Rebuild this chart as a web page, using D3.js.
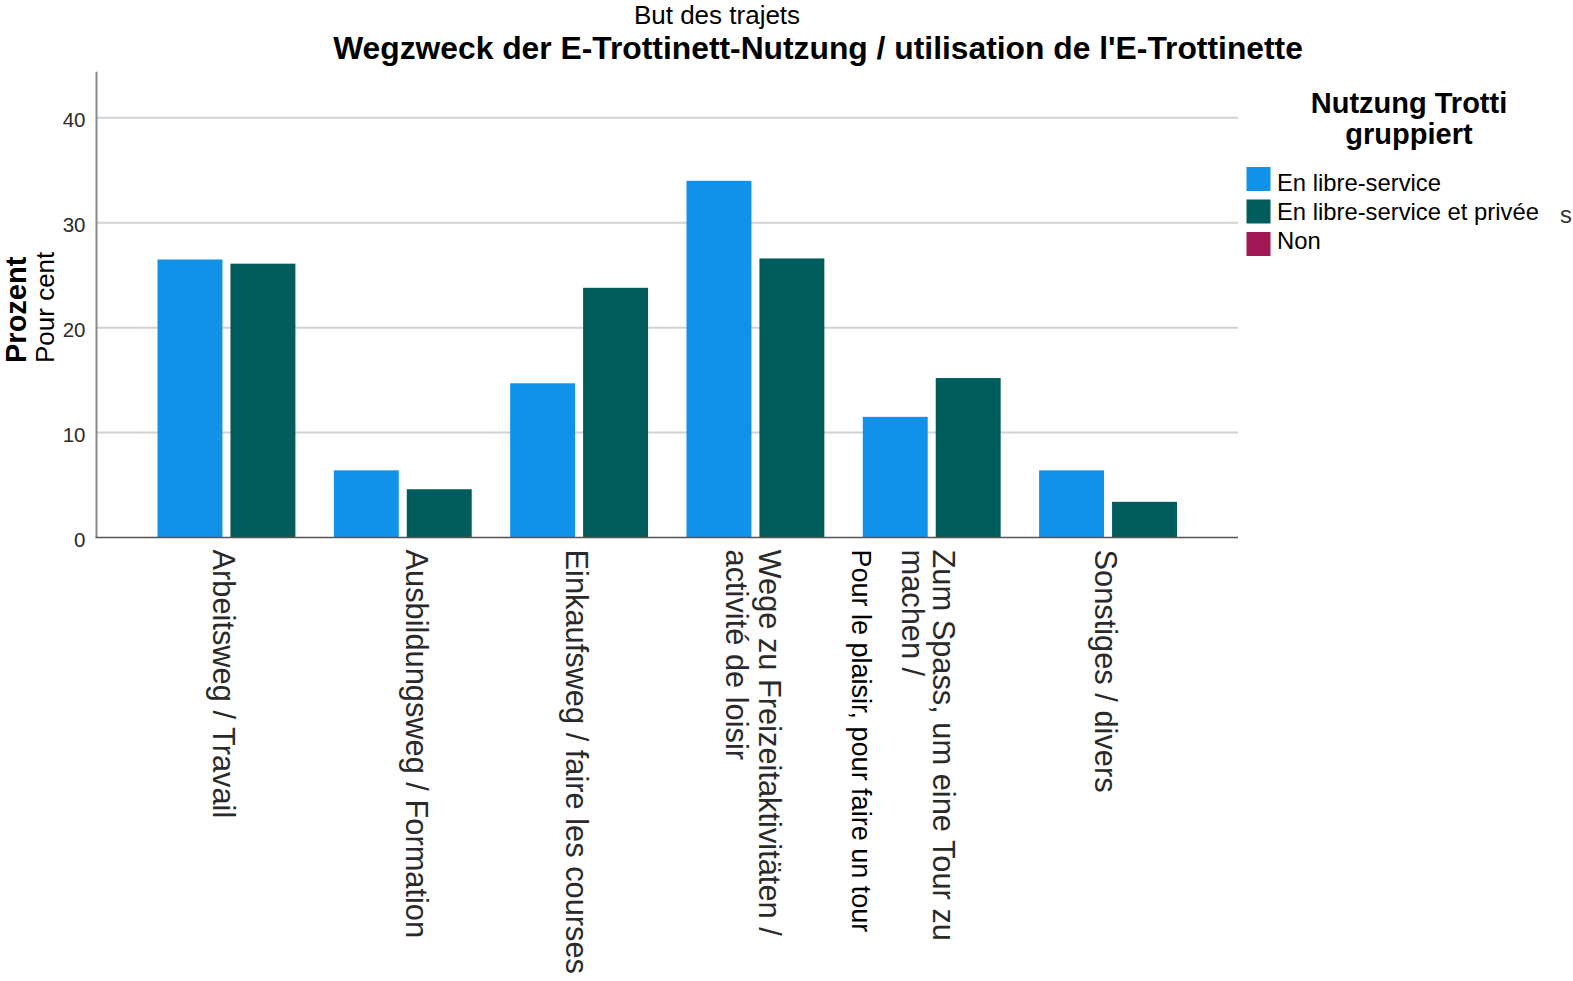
<!DOCTYPE html>
<html>
<head>
<meta charset="utf-8">
<script src="https://cdn.jsdelivr.net/npm/d3@7"></script>
<style>
  html, body { margin: 0; padding: 0; background: #ffffff; }
  svg { display: block; font-family: "Liberation Sans", Arial, sans-serif; }
</style>
</head>
<body>
<svg id="chart" width="1573" height="981"></svg>
<script>
// ---------- data ----------
const categoryLabels = [
  ["Arbeitsweg /  Travail"],
  ["Ausbildungsweg /  Formation", ""],
  ["Einkaufsweg / faire les courses"],
  ["Wege zu Freizeitaktivitäten /", "activité de loisir"],
  ["Zum Spass, um eine Tour zu", "machen /", "Pour le plaisir, pour faire un tour"],
  ["Sonstiges / divers"]
];
const seriesNames = ["En libre-service", "En libre-service et privée", "Non"];
const seriesColors = ["#1192e8", "#005d5d", "#9f1853"];
const libreService = [26.5, 6.4, 14.7, 34.0, 11.5, 6.4];
const librePrivee  = [26.1, 4.6, 23.8, 26.6, 15.2, 3.4];
const yTicks = [0, 10, 20, 30, 40];
const yMax = 44.4;
const subTitle = "But des trajets";
const mainTitle = "Wegzweck der E-Trottinett-Nutzung / utilisation de l'E-Trottinette";
const yTitleBold = "Prozent";
const yTitle = "Pour cent";
const legendTitle = ["Nutzung Trotti", "gruppiert"];

// ---------- layout ----------
const svg = d3.select("#chart");
const plotLeft = 96.5, plotRight = 1238, plotTop = 71.7, plotBottom = 537.5;

const x0 = d3.scaleBand()
  .domain(d3.range(categoryLabels.length))
  .range([plotLeft, plotRight])
  .paddingInner(0.218)
  .paddingOuter(0.346);
const x1 = d3.scaleBand()
  .domain([0, 1])
  .range([0, x0.bandwidth()])
  .paddingInner(0.11);
const y = d3.scaleLinear().domain([0, yMax]).range([plotBottom, plotTop]);

// gridlines
svg.append("g").selectAll("line")
  .data(yTicks.filter(d => d > 0))
  .join("line")
  .attr("x1", plotLeft).attr("x2", plotRight)
  .attr("y1", d => y(d)).attr("y2", d => y(d))
  .attr("stroke", "#d2d2d2").attr("stroke-width", 2);

// y axis tick labels
const yAxis = d3.axisLeft(y).tickValues(yTicks).tickSize(0).tickPadding(11);
const gy = svg.append("g").attr("transform", `translate(${plotLeft},0)`).call(yAxis);
gy.select(".domain").remove();
gy.selectAll("text")
  .attr("font-size", 20.5)
  .attr("font-family", "Liberation Sans, Arial, sans-serif")
  .attr("fill", "#2b2b2b")
  .attr("dy", "0.42em");

// bars
const seriesValues = [libreService, librePrivee];
const groups = svg.append("g").selectAll("g")
  .data(d3.range(categoryLabels.length))
  .join("g")
  .attr("transform", i => `translate(${x0(i)},0)`);
groups.selectAll("rect")
  .data(i => seriesValues.map((vals, s) => ({ s, v: vals[i] })))
  .join("rect")
  .attr("x", d => x1(d.s))
  .attr("width", x1.bandwidth())
  .attr("y", d => y(d.v))
  .attr("height", d => y(0) - y(d.v))
  .attr("fill", d => seriesColors[d.s]);

// axis lines
svg.append("line")
  .attr("x1", plotLeft).attr("x2", plotLeft)
  .attr("y1", plotTop).attr("y2", plotBottom)
  .attr("stroke", "#8a8a8a").attr("stroke-width", 2);
svg.append("line")
  .attr("x1", plotLeft - 1).attr("x2", plotRight)
  .attr("y1", plotBottom).attr("y2", plotBottom)
  .attr("stroke", "#555").attr("stroke-width", 1.6);

// x labels (rotated 90deg)
const lineStep = 33, baseShift = 13, labelFont = 30.8;
const customOffsets = { 4: [-1.5, 29.5, 79.5] };
const customFonts = { 4: [labelFont, labelFont, 27] };
categoryLabels.forEach((lines, i) => {
  const cx = x0(i) + x0.bandwidth() / 2;
  const g = svg.append("g")
    .attr("transform", `translate(${cx},${plotBottom + 12}) rotate(90)`);
  const n = lines.length;
  lines.forEach((t, k) => {
    if (!t) return;
    const ry = customOffsets[i] ? customOffsets[i][k] : baseShift + (k - (n - 1) / 2) * lineStep;
    const fs = customFonts[i] ? customFonts[i][k] : labelFont;
    g.append("text")
      .attr("x", 0).attr("y", ry)
      .attr("font-size", fs)
      .attr("fill", fs === labelFont ? "#2a2a2a" : "#000")
      .text(t);
  });
});

// titles
svg.append("text")
  .attr("x", 717).attr("y", 24)
  .attr("text-anchor", "middle")
  .attr("font-size", 26)
  .attr("fill", "#000")
  .text(subTitle);
svg.append("text")
  .attr("x", 818).attr("y", 58.5)
  .attr("text-anchor", "middle")
  .attr("font-size", 31.8)
  .attr("font-weight", "bold")
  .attr("fill", "#000")
  .text(mainTitle);

// y axis titles
svg.append("text")
  .attr("transform", "translate(26,363) rotate(-90)")
  .attr("font-size", 29)
  .attr("font-weight", "bold")
  .attr("fill", "#000")
  .text(yTitleBold);
svg.append("text")
  .attr("transform", "translate(54,363) rotate(-90)")
  .attr("font-size", 26)
  .attr("fill", "#000")
  .text(yTitle);

// legend
const lg = svg.append("g");
lg.selectAll("text.lt")
  .data(legendTitle)
  .join("text")
  .attr("class", "lt")
  .attr("x", 1409)
  .attr("y", (d, i) => 113 + i * 30.5)
  .attr("text-anchor", "middle")
  .attr("font-size", 29)
  .attr("font-weight", "bold")
  .attr("fill", "#000")
  .text(d => d);
const ly = d3.scalePoint().domain(d3.range(seriesNames.length)).range([167, 232]);
const lty = d3.scalePoint().domain(d3.range(seriesNames.length)).range([191, 249]);
lg.selectAll("rect")
  .data(seriesNames.map((n, i) => i))
  .join("rect")
  .attr("x", 1246.5).attr("y", i => ly(i))
  .attr("width", 24).attr("height", 24)
  .attr("fill", i => seriesColors[i]);
lg.selectAll("text.li")
  .data(seriesNames)
  .join("text")
  .attr("class", "li")
  .attr("x", 1277).attr("y", (d, i) => lty(i))
  .attr("font-size", 23.8)
  .attr("fill", "#000")
  .text(d => d);
// stray clipped character at the right edge
svg.append("text")
  .attr("x", 1560).attr("y", 223)
  .attr("font-size", 23.8)
  .attr("fill", "#333")
  .text("s");
</script>
</body>
</html>
